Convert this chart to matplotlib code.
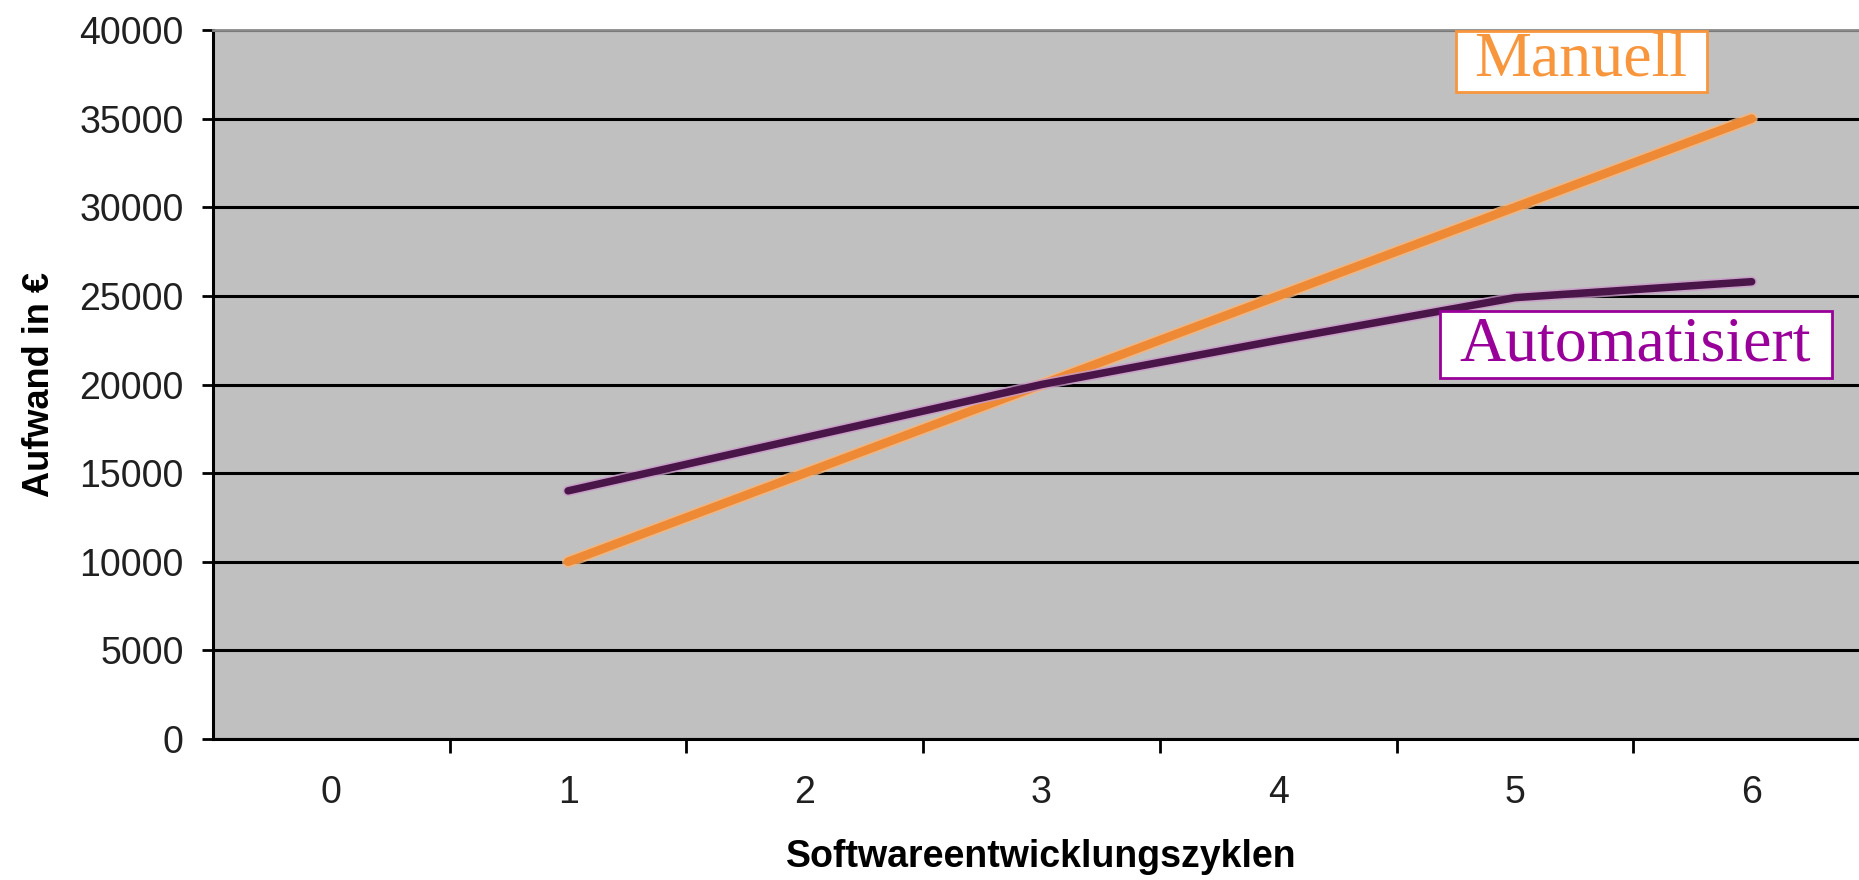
import matplotlib
matplotlib.use("Agg")
import matplotlib.pyplot as plt
import matplotlib.patches as patches
import matplotlib.patheffects as pe

categories = ["0", "1", "2", "3", "4", "5", "6"]
cycles = [1, 2, 3, 4, 5, 6]
manuell = [10000, 15000, 20000, 25000, 30000, 35000]
automatisiert = [14000, 17000, 20000, 22500, 24900, 25800]
yticks = [0, 5000, 10000, 15000, 20000, 25000, 30000, 35000, 40000]

W, H = 1859, 880
fig = plt.figure(figsize=(W / 100, H / 100), dpi=100)
left, right, top, bottom = 213, 1870, 30, 739
ax = fig.add_axes([left / W, 1 - bottom / H, (right - left) / W, (bottom - top) / H])
ax.set_facecolor("#C0C0C0")

ax.set_xlim(-0.5, len(categories) - 0.5)
ax.set_ylim(0, 40000)

# gridlines
ax.set_yticks(yticks)
ax.yaxis.grid(True, color="black", linewidth=2.2)
ax.set_axisbelow(True)

# x ticks between categories, labels centered
ax.set_xticks([i + 0.5 for i in range(len(categories))])
ax.set_xticklabels([])
ax.set_xticks(range(len(categories)), minor=True)
ax.set_xticklabels(categories, minor=True)
ax.tick_params(axis="x", which="major", length=10, width=2, direction="out", color="black")
ax.tick_params(axis="x", which="minor", length=0, pad=26)
ax.tick_params(axis="y", length=8, width=2, direction="out", pad=13)

for lab in ax.get_yticklabels() + ax.get_xticklabels(minor=True):
    lab.set_fontfamily("Liberation Sans")
    lab.set_fontsize(27)
    lab.set_color("#202020")

for s in ["left", "bottom"]:
    ax.spines[s].set_color("black")
    ax.spines[s].set_linewidth(2.2)
ax.spines["top"].set_color("#8a8a8a")
ax.spines["top"].set_linewidth(2)
ax.spines["right"].set_visible(False)

ax.plot(cycles, manuell, color="#EE8A36", linewidth=6.2, solid_capstyle="round", zorder=3,
        path_effects=[pe.Stroke(linewidth=8.8, foreground="#F6B57A", alpha=0.8), pe.Normal()])
ax.plot(cycles, automatisiert, color="#4A1548", linewidth=5.4, solid_capstyle="round", zorder=4,
        path_effects=[pe.Stroke(linewidth=7.8, foreground="#C99AC8", alpha=0.8), pe.Normal()])

ax.set_ylabel("Aufwand in €", fontfamily="Liberation Sans", fontweight="bold", fontsize=26, labelpad=16)
ax.set_xlabel("Softwareentwicklungszyklen", fontfamily="Liberation Sans", fontweight="bold",
              fontsize=27, labelpad=20)

def px_to_ax(x, y):
    return (x - left) / (right - left), (bottom - y) / (bottom - top)

def label_box(x0, y0, x1, y1, text, tx, ty, color):
    ax0, ay0 = px_to_ax(x0, y1)
    ax1, ay1 = px_to_ax(x1, y0)
    rect = patches.Rectangle((ax0, ay0), ax1 - ax0, ay1 - ay0, transform=ax.transAxes,
                             facecolor="white", edgecolor=color, linewidth=2, zorder=6)
    ax.add_patch(rect)
    txx, tyy = px_to_ax(tx, ty)
    ax.text(txx, tyy, text, transform=ax.transAxes, ha="center", va="baseline",
            fontfamily="Liberation Serif", fontsize=46, color=color, zorder=7)

label_box(1456, 31, 1707, 92, "Manuell", 1581, 75, "#F7963C")
label_box(1440, 311, 1832, 378, "Automatisiert", 1635, 360, "#990099")

fig.savefig("out.png", dpi=100, facecolor="white")
